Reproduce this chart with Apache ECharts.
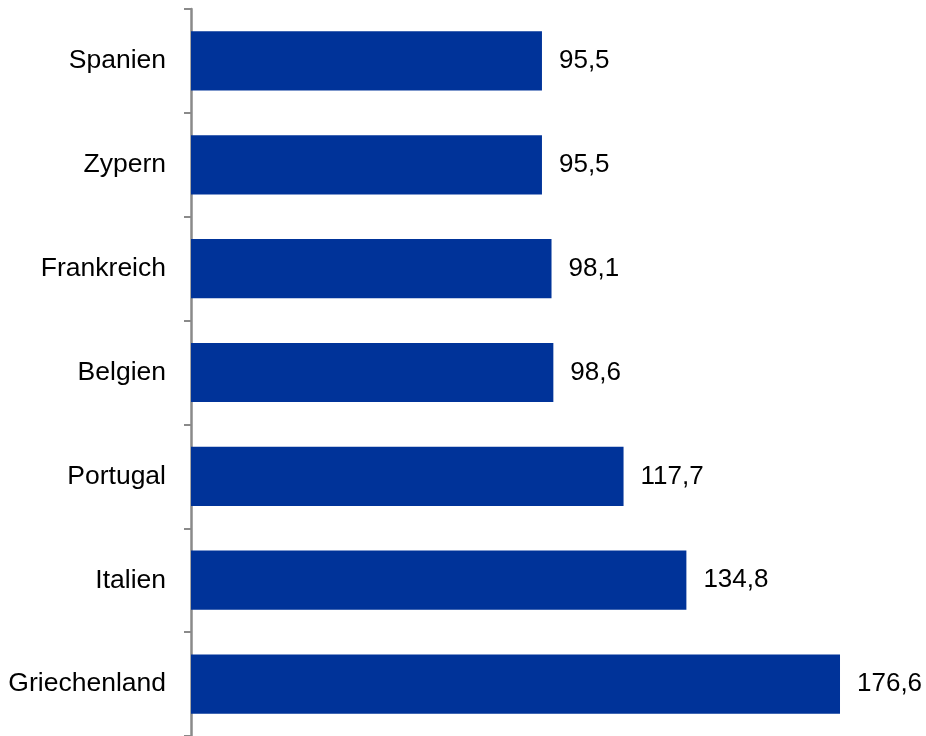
<!DOCTYPE html>
<html><head><meta charset="utf-8">
<script src="https://cdn.jsdelivr.net/npm/echarts@6/dist/echarts.min.js"></script>
<style>html,body{margin:0;padding:0;background:#fff}#c{width:926px;height:736px}</style>
</head><body><div id="c"></div>
<script>
var categories = ["Spanien","Zypern","Frankreich","Belgien","Portugal","Italien","Griechenland"];
var values = [95.5, 95.5, 98.1, 98.6, 117.7, 134.8, 176.6];
var chart = echarts.init(document.getElementById('c'), null, {renderer:'canvas'});
chart.setOption({
  animation:false,
  grid:{left:191, top:9, width:735, bottom:-1, containLabel:false},
  xAxis:{type:'value', min:0, max:200, show:false},
  yAxis:{type:'category', data:categories, inverse:true,
    axisLine:{show:true, lineStyle:{color:'#8a8a8a', width:2.5}},
    axisTick:{show:true, length:7, lineStyle:{color:'#8a8a8a', width:2}},
    axisLabel:{color:'#000', fontFamily:'Liberation Sans, Arial', fontSize:26.5, margin:25},
    splitLine:{show:false}},
  series:[{type:'bar', data:values, barCategoryGap:'43%', itemStyle:{color:'#003399'},
    label:{show:true, position:'right', distance:17, color:'#000', fontFamily:'Liberation Sans, Arial', fontSize:26,
      formatter:function(p){return p.value.toFixed(1).replace('.',',');}}}]
});
</script></body></html>
